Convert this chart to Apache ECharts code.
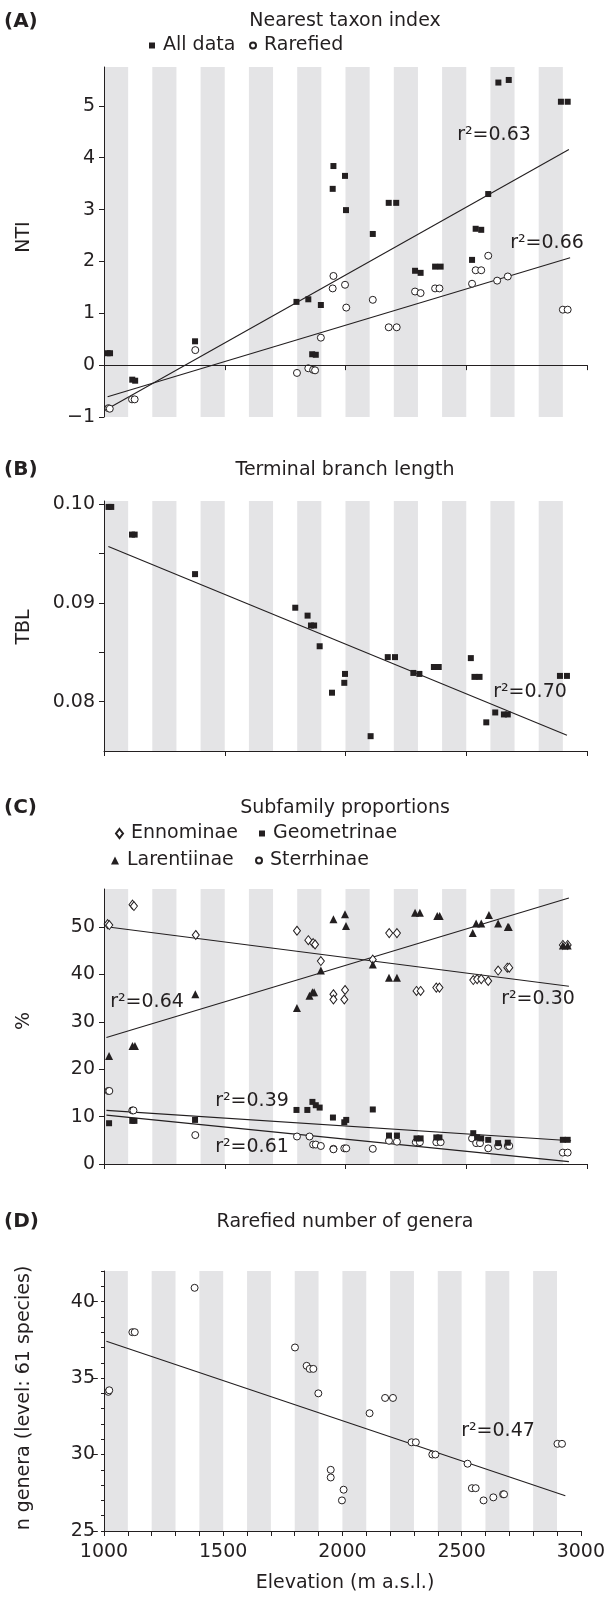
<!DOCTYPE html>
<html>
<head>
<meta charset="utf-8">
<script src="https://cdn.jsdelivr.net/npm/echarts@6/dist/echarts.min.js"></script>
<style>
html, body { margin: 0; padding: 0; background: #fff; }
#chart { width: 608px; height: 1598px; }
</style>
</head>
<body>
<div id="chart"></div>
<script>
// grey elevation bands (start of each 100 m band)
const bandStarts = [1000, 1200, 1400, 1600, 1800, 2000, 2200, 2400, 2600, 2800];

// (A) NTI
const ntiTicks = [-1, 0, 1, 2, 3, 4, 5];
const ntiAllX = [1015, 1025, 1117, 1129, 1377, 1797, 1846, 1898, 1862, 1877, 1950, 1998, 1947, 2002, 2113, 2179, 2210, 2288, 2311, 2371, 2394, 2524, 2539, 2562, 2591, 2633, 2676, 2892, 2920];
const ntiAllY = [0.23, 0.23, -0.28, -0.30, 0.46, 1.22, 1.27, 1.16, 0.21, 0.20, 3.84, 3.65, 3.40, 2.99, 2.53, 3.13, 3.13, 1.82, 1.78, 1.90, 1.90, 2.03, 2.63, 2.61, 3.30, 5.45, 5.50, 5.08, 5.08];
const ntiRarX = [1018, 1024, 1116, 1127, 1378, 1799, 1846, 1866, 1874, 1898, 1950, 1947, 1998, 2003, 2113, 2179, 2212, 2288, 2311, 2371, 2389, 2524, 2539, 2562, 2591, 2628, 2672, 2900, 2920];
const ntiRarY = [-0.83, -0.84, -0.66, -0.66, 0.29, -0.15, -0.06, -0.09, -0.10, 0.53, 1.72, 1.48, 1.55, 1.11, 1.26, 0.73, 0.73, 1.42, 1.39, 1.48, 1.48, 1.57, 1.83, 1.83, 2.11, 1.63, 1.71, 1.07, 1.07];
const ntiAllFitX = [1015, 2925], ntiAllFitY = [-0.84, 4.16];
const ntiRarFitX = [1015, 2930], ntiRarFitY = [-0.61, 2.07];

// (B) TBL
const tblTicks = [0.08, 0.085, 0.09, 0.095, 0.1];
const tblLabels = [0.08, 0.09, 0.1];
const tblX = [1019, 1030, 1116, 1127, 1377, 1792, 1843, 1857, 1870, 1893, 1944, 1995, 1998, 2104, 2175, 2205, 2281, 2306, 2366, 2386, 2519, 2534, 2555, 2583, 2620, 2656, 2672, 2888, 2917];
const tblY = [0.0997, 0.0997, 0.0969, 0.0969, 0.0929, 0.0895, 0.0887, 0.0877, 0.0877, 0.0856, 0.0809, 0.0819, 0.0828, 0.0765, 0.0845, 0.0845, 0.0829, 0.0828, 0.0835, 0.0835, 0.0844, 0.0825, 0.0825, 0.0779, 0.0789, 0.0787, 0.0787, 0.0826, 0.0826];
const tblFitX = [1018, 2917], tblFitY = [0.0957, 0.0766];

// (C) subfamily proportions (%)
const pctTicks = [0, 10, 20, 30, 40, 50];
const ennX = [1015, 1022, 1118, 1124, 1380, 1799, 1846, 1866, 1874, 1898, 1950, 1950, 1998, 1995, 2113, 2181, 2213, 2294, 2311, 2376, 2389, 2529, 2545, 2562, 2591, 2632, 2670, 2678, 2900, 2920];
const ennY = [50.6, 50.4, 54.7, 54.4, 48.3, 49.2, 47.2, 46.6, 46.3, 42.8, 35.8, 34.7, 36.7, 34.7, 43.1, 48.7, 48.7, 36.5, 36.5, 37.2, 37.2, 38.8, 39.0, 39.0, 38.6, 40.8, 41.4, 41.4, 46.2, 46.2];
const geoX = [1021, 1117, 1126, 1377, 1797, 1842, 1863, 1877, 1893, 1948, 1995, 2003, 2113, 2180, 2213, 2294, 2311, 2376, 2389, 2529, 2545, 2562, 2591, 2632, 2672, 2900, 2920];
const geoY = [8.6, 9.1, 9.1, 9.3, 11.4, 11.4, 13.1, 12.4, 11.9, 9.8, 8.8, 9.3, 11.5, 6.0, 6.0, 5.4, 5.4, 5.6, 5.6, 6.5, 5.6, 5.4, 5.1, 4.4, 4.5, 5.1, 5.1];
const larX = [1021, 1118, 1128, 1378, 1799, 1851, 1863, 1870, 1898, 1950, 1998, 2002, 2113, 2180, 2213, 2288, 2308, 2380, 2390, 2527, 2541, 2562, 2594, 2632, 2672, 2676, 2900, 2920];
const larY = [22.8, 24.9, 24.9, 35.8, 32.9, 35.5, 36.2, 36.2, 40.8, 51.6, 52.7, 50.2, 42.1, 39.3, 39.3, 53.0, 53.0, 52.3, 52.3, 48.7, 50.7, 50.7, 52.5, 50.7, 50.0, 50.0, 46.1, 46.1];
const sterX = [1018, 1022, 1117, 1122, 1378, 1799, 1851, 1866, 1877, 1898, 1950, 1950, 1995, 2003, 2113, 2180, 2213, 2291, 2308, 2376, 2394, 2524, 2541, 2557, 2591, 2632, 2672, 2678, 2900, 2920];
const sterY = [15.4, 15.4, 11.3, 11.3, 6.1, 5.8, 5.8, 4.1, 4.1, 3.8, 3.2, 3.1, 3.3, 3.3, 3.2, 4.9, 4.7, 4.6, 4.6, 4.6, 4.6, 5.4, 4.4, 4.4, 3.3, 3.8, 3.8, 3.8, 2.4, 2.4];
const ennFitX = [1018, 2925], ennFitY = [50.0, 37.5];
const larFitX = [1010, 2925], larFitY = [26.7, 56.1];
const geoFitX = [1010, 2934], geoFitY = [11.3, 4.9];
const sterFitX = [1010, 2925], sterFitY = [10.3, 0.5];

// (D) rarefied number of genera
const genTicks = [25, 30, 35, 40];
const genX = [1018, 1022, 1119, 1129, 1380, 1801, 1850, 1863, 1878, 1899, 1951, 1951, 2005, 1998, 2114, 2179, 2212, 2290, 2308, 2377, 2390, 2525, 2543, 2559, 2592, 2633, 2674, 2678, 2902, 2921];
const genY = [34.1, 34.2, 38.0, 38.0, 40.9, 37.0, 35.8, 35.6, 35.6, 34.0, 29.0, 28.5, 27.7, 27.0, 32.7, 33.7, 33.7, 30.8, 30.8, 30.0, 30.0, 29.4, 27.8, 27.8, 27.0, 27.2, 27.4, 27.4, 30.7, 30.7];
const genFitX = [1010, 2935], genFitY = [37.4, 27.3];

const ink = '#231f20';
const font = '"DejaVu Sans", "Liberation Sans", Arial, sans-serif';
const fs = 19;
const pts = (xs, ys) => xs.map((x, i) => [x, ys[i]]);

const chart = echarts.init(document.getElementById('chart'), null, {renderer: 'canvas'});

const grids = [
  {left: 104, width: 483, top: 67, height: 350},
  {left: 104, width: 483, top: 501, height: 250},
  {left: 104, width: 483, top: 889, height: 275},
  {left: 104, width: 483, top: 1271, height: 260}
];

const xAxes = grids.map((g, i) => ({
  gridIndex: i, type: 'value', min: 1000, max: 3000, interval: 500, z: 10,
  axisLine: {show: true, onZero: i === 0, lineStyle: {color: ink, width: 1}},
  axisTick: {show: true, length: 5, lineStyle: {color: ink}},
  minorTick: {show: i === 3, splitNumber: 5, length: 5, lineStyle: {color: ink}},
  axisLabel: {show: i === 3, color: ink, fontSize: fs, fontFamily: font, margin: 12, formatter: v => String(v)},
  splitLine: {show: false}
}));

function yAx(gi, min, max, interval, ticks, labels, fmt, extra) {
  return Object.assign({
    gridIndex: gi, type: 'value', min: min, max: max, interval: interval, z: 10,
    axisLine: {show: true, lineStyle: {color: ink, width: 1}},
    axisTick: {show: true, length: 5, customValues: ticks, lineStyle: {color: ink}},
    axisLabel: {color: ink, fontSize: fs, fontFamily: font, margin: 9, customValues: labels, formatter: fmt},
    splitLine: {show: false}
  }, extra || {});
}

const yAxes = [
  yAx(0, -1, 5.75, 1, ntiTicks, ntiTicks, v => (v < 0 ? '\u2212' + Math.abs(v) : String(v))),
  yAx(1, 0.075, 0.1003, 0.005, tblTicks, tblLabels, v => v.toFixed(2)),
  yAx(2, 0, 58, 10, pctTicks, pctTicks, v => String(v)),
  // panel D: short ticks every 1, labels every 5
  yAx(3, 25, 42, 1, undefined, genTicks, v => String(v), {axisTick: {show: true, length: 3, lineStyle: {color: ink}}}),
  // longer major ticks for panel D, placed on the left edge of the grid
  yAx(3, 25, 42, 5, genTicks, undefined, () => '', {
    position: 'right', offset: -483,
    axisLine: {show: false},
    axisTick: {show: true, inside: true, length: 6, customValues: genTicks, lineStyle: {color: ink}},
    axisLabel: {show: false}
  })
];

const series = [];
// background bands
for (let i = 0; i < 4; i++) {
  series.push({
    type: 'scatter', xAxisIndex: i, yAxisIndex: i, data: [], silent: true, z: 0,
    markArea: {
      silent: true,
      itemStyle: {color: '#e4e4e6'},
      data: bandStarts.map(b => [{xAxis: b}, {xAxis: b + 100}])
    }
  });
}

function fit(gi, xs, ys) {
  return {
    type: 'line', xAxisIndex: gi, yAxisIndex: gi, data: pts(xs, ys),
    symbol: 'none', silent: true, z: 3,
    lineStyle: {color: ink, width: 1.1}
  };
}
function pointsSeries(name, gi, xs, ys, symbol, size, filled, z) {
  return {
    name: name, type: 'scatter', xAxisIndex: gi, yAxisIndex: gi,
    data: pts(xs, ys), symbol: symbol, symbolSize: size, z: z || 4,
    itemStyle: filled ? {color: ink, opacity: 1} : {color: '#fff', borderColor: ink, borderWidth: 1, opacity: 1}
  };
}

// (A)
series.push(fit(0, ntiAllFitX, ntiAllFitY));
series.push(fit(0, ntiRarFitX, ntiRarFitY));
series.push(pointsSeries('All data', 0, ntiAllX, ntiAllY, 'rect', 6, true));
series.push(pointsSeries('Rarefied', 0, ntiRarX, ntiRarY, 'circle', 7, false));
// (B)
series.push(fit(1, tblFitX, tblFitY));
series.push(pointsSeries('TBL', 1, tblX, tblY, 'rect', 6, true));
// (C)
series.push(fit(2, ennFitX, ennFitY));
series.push(fit(2, larFitX, larFitY));
series.push(fit(2, geoFitX, geoFitY));
series.push(fit(2, sterFitX, sterFitY));
series.push(pointsSeries('Ennominae', 2, ennX, ennY, 'diamond', [7, 9], false, 4));
series.push(pointsSeries('Geometrinae', 2, geoX, geoY, 'rect', 6, true, 5));
series.push(pointsSeries('Larentiinae', 2, larX, larY, 'triangle', 8, true, 5));
series.push(pointsSeries('Sterrhinae', 2, sterX, sterY, 'circle', 7, false, 4));
// (D)
series.push(fit(3, genFitX, genFitY));
series.push(pointsSeries('Genera', 3, genX, genY, 'circle', 7, false));

function legendItem(name, left, cy, w, h) {
  return {
    data: [name], left: left, top: cy - 11, orient: 'horizontal', padding: 0,
    itemWidth: w, itemHeight: h, selectedMode: false,
    textStyle: {color: ink, fontSize: fs, fontFamily: font, padding: [0, 0, 0, 3]}
  };
}

const txt = (text, x, y, opts) => ({
  type: 'text', x: x, y: y, silent: true, z: 100,
  style: Object.assign({text: text, fill: ink, font: fs + 'px ' + font, textAlign: 'center', textVerticalAlign: 'middle'}, opts || {})
});
const vtxt = (text, x, y) => ({
  type: 'text', x: x, y: y, rotation: Math.PI / 2, silent: true, z: 100,
  style: {text: text, fill: ink, font: fs + 'px ' + font, textAlign: 'center', textVerticalAlign: 'middle'}
});
const bold = {font: 'bold 20px ' + font, textAlign: 'left'};

const graphics = [
  txt('(A)', 4, 22, bold), txt('Nearest taxon index', 345, 21),
  txt('(B)', 4, 470, bold), txt('Terminal branch length', 345, 470),
  txt('(C)', 4, 808, bold), txt('Subfamily proportions', 345, 808),
  txt('(D)', 4, 1222, bold), txt('Rarefied number of genera', 345, 1222),
  vtxt('NTI', 24, 237), vtxt('TBL', 24, 627), vtxt('%', 24, 1021),
  vtxt('n genera (level: 61 species)', 24, 1398),
  txt('r\u00b2=0.63', 494, 135), txt('r\u00b2=0.66', 547, 243),
  txt('r\u00b2=0.70', 530, 692),
  txt('r\u00b2=0.64', 147, 1002), txt('r\u00b2=0.30', 538, 999),
  txt('r\u00b2=0.39', 252, 1101), txt('r\u00b2=0.61', 252, 1147),
  txt('r\u00b2=0.47', 498, 1431),
  txt('Elevation (m a.s.l.)', 345, 1583)
];

chart.setOption({
  animation: false,
  backgroundColor: '#fff',
  textStyle: {fontFamily: font},
  grid: grids,
  xAxis: xAxes,
  yAxis: yAxes,
  legend: [
    legendItem('All data', 149, 47, 6, 6),
    legendItem('Rarefied', 249, 47, 6, 6),
    legendItem('Ennominae', 115, 835, 7, 9),
    legendItem('Geometrinae', 259, 835, 6, 6),
    legendItem('Larentiinae', 111, 862, 8, 8),
    legendItem('Sterrhinae', 255, 862, 6, 6)
  ],
  graphic: graphics,
  series: series
});
</script>
</body>
</html>
